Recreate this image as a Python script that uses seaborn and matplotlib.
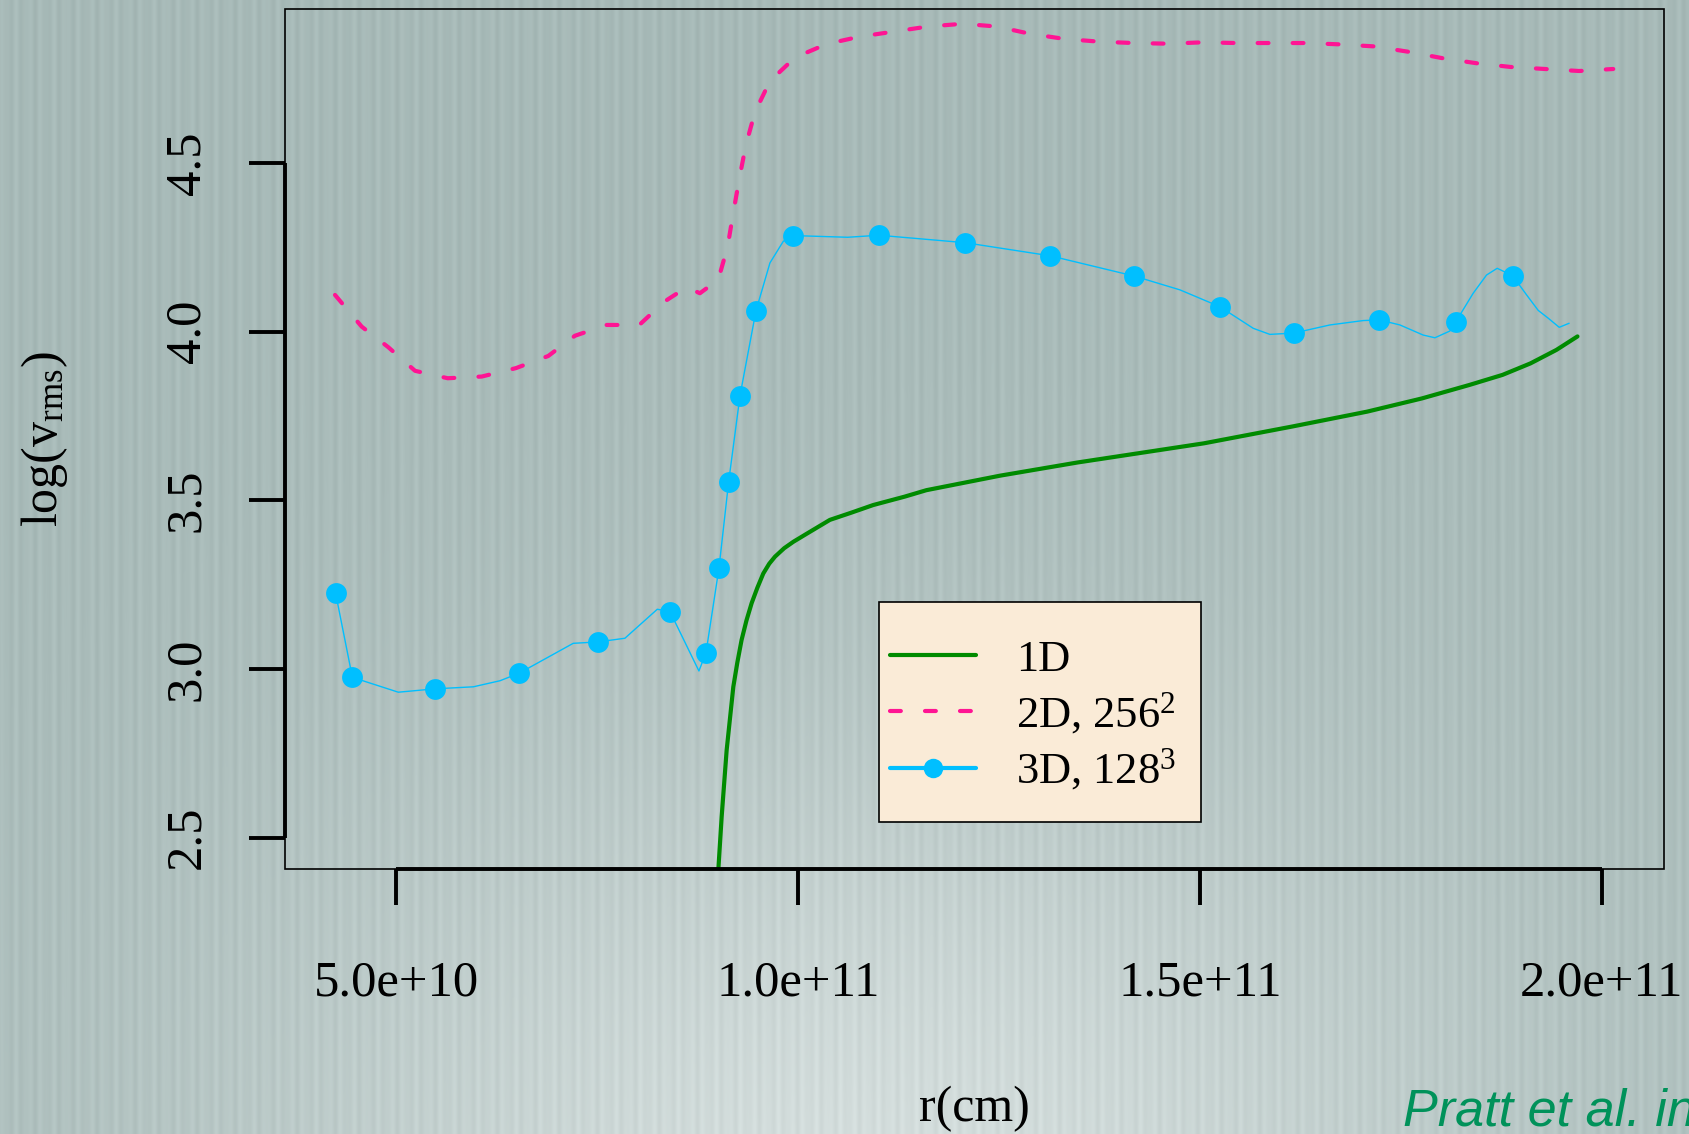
import numpy as np
import pandas as pd
import matplotlib
matplotlib.use("Agg")
import matplotlib.pyplot as plt
from matplotlib.lines import Line2D
from matplotlib.patches import Rectangle
import seaborn as sns

# ---- data: radius in units of 1e10 cm, log10 of the rms velocity ----
r_1d = [9.000, 9.048, 9.110, 9.193, 9.243, 9.296, 9.357, 9.421, 9.491, 9.566,
        9.640, 9.712, 9.826, 9.940, 10.121, 10.395, 10.657, 10.934, 11.327,
        11.595, 12.511, 13.472, 15.050, 16.153, 17.082, 17.761, 18.353,
        18.767, 19.114, 19.437, 19.699]
v_1d = [2.380, 2.562, 2.759, 2.947, 3.019, 3.086, 3.144, 3.195, 3.240, 3.283,
        3.312, 3.333, 3.358, 3.377, 3.403, 3.442, 3.463, 3.486, 3.511,
        3.530, 3.573, 3.612, 3.669, 3.719, 3.763, 3.802, 3.842,
        3.872, 3.906, 3.946, 3.986]

r_2d = [4.236, 4.568, 4.899, 5.232, 5.638, 6.062, 6.488, 6.890, 7.222, 7.617,
        8.023, 8.334, 8.613, 8.777, 9.005, 9.122, 9.193, 9.267, 9.350, 9.462,
        9.649, 9.960, 10.354, 10.769, 11.196, 11.619, 12.047, 12.469, 12.893,
        13.320, 13.748, 14.170, 14.606, 15.030, 15.456, 15.893, 16.315, 16.743,
        17.169, 17.597, 18.020, 18.444, 18.866, 19.294, 19.720, 20.144]
v_2d = [4.109, 4.015, 3.954, 3.884, 3.862, 3.867, 3.892, 3.928, 3.988, 4.020,
        4.020, 4.089, 4.132, 4.114, 4.154, 4.252, 4.353, 4.453, 4.554, 4.651,
        4.743, 4.813, 4.853, 4.875, 4.890, 4.905, 4.913, 4.905, 4.883,
        4.868, 4.860, 4.856, 4.854, 4.858, 4.856, 4.856, 4.856, 4.852,
        4.846, 4.830, 4.811, 4.796, 4.785, 4.779, 4.773, 4.779]

r_3d = [4.244, 4.452, 5.024, 5.480, 5.957, 6.289, 6.525, 7.201, 7.505, 7.844,
        8.247, 8.405, 8.765, 8.853, 9.015, 9.135, 9.276, 9.475, 9.649, 9.815,
        9.940, 10.617, 11.005, 12.075, 13.138, 14.182, 14.752, 15.249, 15.664,
        15.871, 16.170, 16.618, 17.032, 17.232, 17.489, 17.779, 17.925, 18.111,
        18.186, 18.401, 18.567, 18.700, 18.892, 19.066, 19.211, 19.335, 19.472,
        19.595]
v_3d = [3.224, 2.975, 2.931, 2.941, 2.947, 2.965, 2.987, 3.076, 3.080, 3.091,
        3.177, 3.170, 2.994, 3.048, 3.300, 3.555, 3.810, 4.062, 4.204, 4.268,
        4.285, 4.280, 4.286, 4.264, 4.225, 4.165, 4.124, 4.074, 4.010,
        3.992, 3.996, 4.020, 4.033, 4.035, 4.020, 3.990, 3.982, 4.002,
        4.030, 4.114, 4.168, 4.188, 4.166, 4.109, 4.063, 4.040, 4.013,
        4.025]
# samples of the 3D profile that carry a dot
marks_3d = [0, 1, 3, 6, 8, 11, 13, 14, 15, 16, 17, 20, 22, 23, 24, 25, 27,
            30, 33, 38, 42]

series_labels = ["1D", r"2D, 256$\mathregular{^2}$", r"3D, 128$\mathregular{^3}$"]
x_ticks = [5e10, 1e11, 1.5e11, 2e11]
x_tick_labels = ["5.0e+10", "1.0e+11", "1.5e+11", "2.0e+11"]
y_ticks = [2.5, 3.0, 3.5, 4.0, 4.5]
y_tick_labels = ["2.5", "3.0", "3.5", "4.0", "4.5"]

GREEN = "#008B00"
PINK = "#FF1493"
BLUE = "#00BFFF"
DASH = (0, (2.6, 5.8))

sns.set_theme(style="ticks")
plt.rcParams["font.family"] = ["Liberation Serif", "DejaVu Serif"]
plt.rcParams["mathtext.fontset"] = "custom"
plt.rcParams["mathtext.rm"] = "Liberation Serif"
plt.rcParams["mathtext.it"] = "Liberation Serif:italic"

W, H = 1689, 1134
fig = plt.figure(figsize=(W / 100, H / 100), dpi=100)

# striped grey-teal backdrop with a soft light patch at the bottom
bg = fig.add_axes([0, 0, 1, 1], zorder=-10)
yy, xx = np.mgrid[0:H, 0:W]
xn, yn = xx / W, yy / H
base = np.array([0.655, 0.728, 0.720])
light = np.array([0.835, 0.872, 0.868])
glow = np.exp(-((xn - 0.52) / 0.40) ** 2 - ((yn - 1.08) / 0.45) ** 2)
img = base + (light - base) * glow[..., None]
stripes = 0.014 * np.sin(2 * np.pi * xx / 12.5) + 0.009 * np.sin(2 * np.pi * xx / 7.7 + 1.3)
img = np.clip(img + stripes[..., None], 0, 1)
bg.imshow(img, aspect="auto", extent=(0, 1, 0, 1), interpolation="nearest")
bg.set_axis_off()

ax = fig.add_axes([0.1690, 0.2334, 0.8163, 0.7590])
ax.set_facecolor("none")

df1 = pd.DataFrame({"r": np.array(r_1d) * 1e10, "v": v_1d})
df2 = pd.DataFrame({"r": np.array(r_2d) * 1e10, "v": v_2d})
df3 = pd.DataFrame({"r": np.array(r_3d) * 1e10, "v": v_3d})

sns.lineplot(data=df1, x="r", y="v", ax=ax, sort=False, estimator=None,
             color=GREEN, lw=3.0, solid_capstyle="round", solid_joinstyle="round")
sns.lineplot(data=df2, x="r", y="v", ax=ax, sort=False, estimator=None,
             color=PINK, lw=3.0, linestyle=DASH, dash_capstyle="round",
             dash_joinstyle="round")
sns.lineplot(data=df3, x="r", y="v", ax=ax, sort=False, estimator=None,
             color=BLUE, lw=1.0, marker="o", markersize=15, markevery=marks_3d,
             markeredgewidth=0, markeredgecolor=BLUE)

ax.set_xlim(3.619e10, 2.0778e11)
ax.set_ylim(2.4058, 4.958)

ax.set_xticks(x_ticks, labels=x_tick_labels)
ax.set_yticks(y_ticks, labels=y_tick_labels)
ax.tick_params(axis="both", direction="out", length=26, width=2.8,
               color="black", labelsize=36.5, labelcolor="black")
ax.tick_params(axis="x", pad=39)
ax.tick_params(axis="y", pad=28, labelrotation=90)
for lbl in ax.get_yticklabels():
    lbl.set_va("center")

# axis lines span first to last tick; thin box around the plot region
for side in ("top", "right"):
    ax.spines[side].set_visible(False)
ax.spines["left"].set_bounds(2.5, 4.5)
ax.spines["bottom"].set_bounds(5e10, 2e11)
for side in ("left", "bottom"):
    ax.spines[side].set_linewidth(2.8)
    ax.spines[side].set_color("black")
    ax.spines[side].set_capstyle("butt")
ax.add_patch(Rectangle((0, 0), 1, 1, transform=ax.transAxes, fill=False,
                       ec="black", lw=1.2, clip_on=False, zorder=1))

ax.set_xlabel("r(cm)", fontsize=36, color="black")
ax.xaxis.set_label_coords(0.5, -0.2924)
ax.xaxis.label.set_va("baseline")
ax.set_ylabel(r"$\mathregular{log(v_{rms})}$", fontsize=36, color="black")
ax.yaxis.set_label_coords(-0.175, 0.5)
ax.yaxis.label.set_va("center")

# legend
ax.add_patch(Rectangle((0.4304, 0.0553), 0.2336, 0.2553, transform=ax.transAxes,
                       fc="#FAEBD7", ec="black", lw=1.2, zorder=4))
handles = [
    Line2D([], [], color=GREEN, lw=3.0, solid_capstyle="round"),
    Line2D([], [], color=PINK, lw=3.0, linestyle=DASH, dash_capstyle="round"),
    Line2D([], [], color=BLUE, lw=3.0, marker="o", markersize=14,
           markeredgewidth=0, solid_capstyle="round"),
]
leg = ax.legend(handles, series_labels, loc="center left",
                bbox_to_anchor=(0.4384, 0.1781), frameon=False, fontsize=32,
                numpoints=1, handlelength=1.94, handletextpad=0.90,
                labelspacing=0.24, borderpad=0, borderaxespad=0)
leg.set_zorder(5)
for t in leg.get_texts():
    t.set_color("black")

# credit line, running off the right edge of the figure
fig.text(1403 / W, (H - 1126) / H, "Pratt et al. in", color="#00925A",
         fontsize=37.5, style="italic", family="Liberation Sans",
         ha="left", va="baseline")

fig.savefig("out.png", dpi=100)
